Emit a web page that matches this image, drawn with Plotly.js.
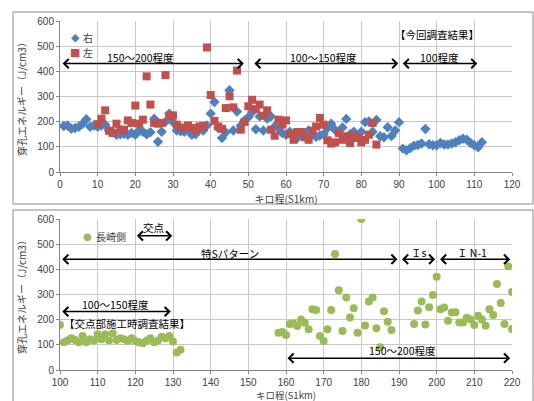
<!DOCTYPE html>
<html><head><meta charset="utf-8">
<script src="https://cdn.plot.ly/plotly-3.0.1.min.js"></script>
<style>body{margin:0;background:#fff}#c{width:534px;height:401px}</style>
</head><body><div id="c"></div>
<script>
// top chart: 右 (blue diamonds)
const rightKm = [1,2,3,4,5,6,7,8,9,10,11,12,13,14,15,16,17,18,19,20,21,22,23,24,25,26,27,28,29,30,31,32,33,34,35,36,37,38,39,40,41,42,43,44,45,46,47,48,49,50,51,52,53,54,55,56,57,58,59,60,61,62,63,64,65,66,67,68,69,70,71,72,73,74,75,76,77,78,79,80,81,82,83,84,85,86,87,88,89,90,91,92,93,94,95,96,97,98,99,100,101,102,103,104,105,106,107,108,109,110,111,112];
const rightVal = [183,185,172,175,180,192,210,180,185,180,185,188,165,160,148,150,152,148,155,148,165,160,150,158,212,120,160,200,232,198,165,162,160,170,148,150,170,165,185,232,278,175,135,158,325,165,240,185,205,218,238,170,221,165,212,221,181,175,155,148,160,150,135,150,155,165,148,140,145,150,175,192,168,160,177,211,150,160,140,160,198,201,160,207,142,138,178,143,165,198,93,86,95,105,107,113,171,110,106,106,115,109,109,113,118,126,132,128,115,106,98,118];
// top chart: 左 (red squares)
const leftKm = [10,11,12,13,14,15,16,17,18,19,20,21,22,23,24,25,26,27,28,29,30,31,32,33,34,35,36,37,38,39,40,41,42,43,44,45,46,47,48,49,50,51,52,53,54,55,56,57,58,59,60,61,62,63,64,65,66,67,68,69,70,71,72,73,74,75,76,77,78,79,80,81,82,83,84];
const leftVal = [190,212,245,164,155,192,168,168,205,195,264,192,208,380,268,195,192,195,385,221,225,188,177,175,185,175,164,181,184,495,306,203,181,172,254,301,257,403,168,199,261,287,250,268,224,245,168,144,208,188,205,151,128,159,159,138,128,164,181,215,188,126,113,118,155,128,142,115,144,135,118,128,148,195,109];
// bottom chart: 長崎側 (green circles)
const nagaKm = [100,101,102,103,104,105,106,107,108,109,110,111,112,113,114,115,116,117,118,119,120,121,122,123,124,125,126,127,128,129,130,131,132,158,159,160,161,162,163,164,165,166,167,168,169,170,171,172,173,174,175,176,177,178,179,180,181,182,183,184,185,186,187,188,194,195,196,197,198,199,200,201,202,203,204,205,206,207,208,209,210,211,212,213,214,215,216,217,218,219,220,220];
const nagaVal = [179,110,117,126,119,110,135,110,122,117,142,122,142,117,146,119,126,122,115,126,115,110,106,117,126,110,117,132,126,135,113,70,80,148,151,139,183,185,175,201,188,162,241,238,135,115,162,238,461,317,155,288,209,245,148,600,177,272,288,166,90,233,192,159,183,236,272,181,249,298,371,241,248,196,228,229,189,189,208,201,179,216,201,176,241,219,342,266,183,412,310,163];

const xTicksTop = [0,10,20,30,40,50,60,70,80,90,100,110,120];
const xTicksBot = [100,110,120,130,140,150,160,170,180,190,200,210,220];
const yTicks = [0,100,200,300,400,500,600];
const xTitle = 'キロ程(S1km)';
const yTitle = '穿孔エネルギー（J/cm3）';

const F = '"Noto Sans CJK JP","Noto Sans",sans-serif';
const FT = '"Liberation Sans",Arial,sans-serif';
const txt = '#404040';
const cBlue = '#4f81bd', cRed = '#c0504d', cGreen = '#9bbb59';

const traces = [
  {x: rightKm, y: rightVal, name: '右', type: 'scatter', mode: 'markers', xaxis: 'x', yaxis: 'y',
   marker: {symbol: 'diamond', size: 8, color: cBlue}, showlegend: false},
  {x: leftKm, y: leftVal, name: '左', type: 'scatter', mode: 'markers', xaxis: 'x', yaxis: 'y',
   marker: {symbol: 'square', size: 8, color: cRed}, showlegend: false},
  {x: nagaKm, y: nagaVal, name: '長崎側', type: 'scatter', mode: 'markers', xaxis: 'x2', yaxis: 'y2',
   marker: {symbol: 'circle', size: 8, color: cGreen}, showlegend: false}
];

function ax(range, ticks, domain, anchor, title, standoff) {
  const a = {
    range: range, domain: domain, anchor: anchor, tickvals: ticks,
    showgrid: true, gridcolor: '#c8c8c8', gridwidth: 1,
    showline: true, linecolor: '#868686', linewidth: 1,
    zeroline: false, ticks: 'outside', ticklen: 3, tickcolor: '#868686',
    tickfont: {family: FT, size: 10, color: txt}
  };
  if (title) a.title = {text: title, font: {family: F, size: 10, color: txt}, standoff: standoff};
  return a;
}

function dbl(xref, yref, x0, x1, y) {
  return {xref: xref, yref: yref, axref: xref, ayref: yref, x: x1, y: y, ax: x0, ay: y,
    text: '', showarrow: true, arrowside: 'end+start', arrowhead: 4, startarrowhead: 4,
    arrowsize: 1.2, startarrowsize: 1.2, arrowwidth: 1.5, arrowcolor: '#000', standoff: 0, startstandoff: 0};
}
function lab(xref, yref, x, y, t, anchor, col, size) {
  return {xref: xref, yref: yref, x: x, y: y, text: t, showarrow: false,
    xanchor: anchor || 'center', yanchor: 'middle',
    font: {family: F, size: size || 10.5, color: col || '#000'}};
}
// legend entries (symbol glyph + label), paper-pixel placement
function leg(px, py, glyph, col, label, gsize) {
  return [
    {xref: 'paper', yref: 'paper', x: px / 534, y: 1 - py / 401, text: glyph, showarrow: false,
     xanchor: 'center', yanchor: 'middle', font: {family: '"DejaVu Sans",sans-serif', size: gsize, color: col}},
    {xref: 'paper', yref: 'paper', x: (px + 6) / 534, y: 1 - py / 401, text: label, showarrow: false,
     xanchor: 'left', yanchor: 'middle', font: {family: F, size: 10, color: txt}}
  ];
}

const layout = {
  width: 534, height: 401, margin: {l: 0, r: 0, t: 0, b: 0},
  paper_bgcolor: '#fff', plot_bgcolor: '#fff', showlegend: false,
  xaxis: ax([0, 120], xTicksTop, [60/534, 512/534], 'y', xTitle, 6),
  yaxis: ax([0, 600], yTicks, [1 - 172/401, 1 - 21/401], 'x', yTitle, 8),
  xaxis2: ax([100, 220], xTicksBot, [60/534, 512/534], 'y2', null, 0),
  yaxis2: ax([0, 600], yTicks, [1 - 370/401, 1 - 219/401], 'x2', yTitle, 8),
  shapes: [
    {type: 'rect', xref: 'paper', yref: 'paper', x0: 13/534, x1: 533/534, y0: 1 - 204/401, y1: 1 - 12/401,
     line: {color: '#8c8c8c', width: 1}},
    {type: 'rect', xref: 'paper', yref: 'paper', x0: 13/534, x1: 533/534, y0: -0.02, y1: 1 - 210/401,
     line: {color: '#8c8c8c', width: 1}}
  ],
  annotations: [].concat(
    leg(75, 37, '◆', cBlue, '右', 11),
    leg(75, 52, '■', cRed, '左', 11),
    leg(88, 236, '●', cGreen, '長崎側', 10),
    [
    {xref: 'x2 domain', yref: 'paper', x: 0.5, y: 1 - 394.5/401, text: xTitle, showarrow: false,
     borderpad: 0, xanchor: 'center', yanchor: 'middle', font: {family: F, size: 9.5, color: txt}},
    dbl('x', 'y', 0.3, 48.8, 431), lab('x', 'y', 21.5, 453, '150〜200程度'),
    dbl('x', 'y', 51.2, 89.8, 431), lab('x', 'y', 70, 453, '100〜150程度'),
    dbl('x', 'y', 90.6, 110.8, 431), lab('x', 'y', 100.7, 453, '100程度'),
    lab('x', 'y', 100, 548, '【今回調査結果】'),
    dbl('x2', 'y2', 120, 129.8, 533), lab('x2', 'y2', 124.8, 565, '交点'),
    dbl('x2', 'y2', 100.2, 189.6, 440), lab('x2', 'y2', 145, 462, '特Sパターン'),
    dbl('x2', 'y2', 190.4, 199.6, 440), lab('x2', 'y2', 195.3, 465, 'Ｉs'),
    dbl('x2', 'y2', 200.5, 219.5, 440), lab('x2', 'y2', 209.5, 465, 'Ｉ N-1'),
    dbl('x2', 'y2', 100.2, 129.4, 232), lab('x2', 'y2', 114.8, 262, '100〜150程度'),
    lab('x2', 'y2', 100.4, 185, '【交点部施工時調査結果】', 'left'),
    dbl('x2', 'y2', 160, 219.5, 47), lab('x2', 'y2', 191, 76, '150〜200程度')
    ])
};
Plotly.newPlot('c', traces, layout, {staticPlot: true, displayModeBar: false});
</script></body></html>
